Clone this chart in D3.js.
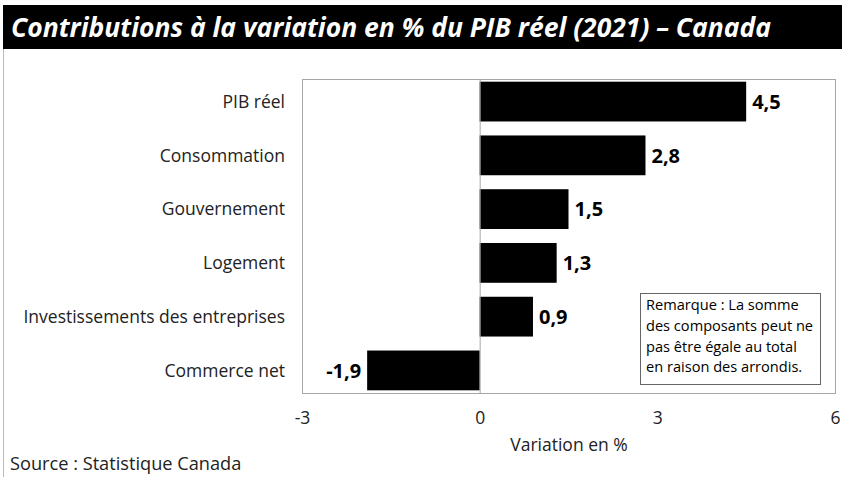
<!DOCTYPE html>
<html>
<head>
<meta charset="utf-8">
<script src="https://cdn.jsdelivr.net/npm/d3@7"></script>
<style>
  body { margin: 0; background: #fff; }
  svg { font-family: 'Open Sans', sans-serif; }
</style>
</head>
<body>
<div id="chart"></div>
<script>
// data
var categories = ['PIB réel', 'Consommation', 'Gouvernement', 'Logement', 'Investissements des entreprises', 'Commerce net']
var values = [4.5, 2.8, 1.5, 1.3, 0.9, -1.9]
var tickValues = [-3, 0, 3, 6]
var noteLines = ['Remarque : La somme', 'des composants peut ne', 'pas être égale au total', 'en raison des arrondis.']

var width = 842
var height = 477

var plot = { left: 302, right: 835, top: 79, bottom: 393 }

var svg = d3.select('#chart').append('svg')
  .attr('width', width)
  .attr('height', height)

// title bar
svg.append('rect')
  .attr('x', 3)
  .attr('y', 5)
  .attr('width', width - 3)
  .attr('height', 44)
  .attr('fill', '#000')

svg.append('text')
  .attr('x', 11)
  .attr('y', 37)
  .attr('fill', '#fff')
  .attr('font-size', 26.5)
  .attr('font-weight', 'bold')
  .attr('font-style', 'italic')
  .attr('textLength', 760)
  .attr('lengthAdjust', 'spacingAndGlyphs')
  .text('Contributions à la variation en % du PIB réel (2021) – Canada')

// faint left border of the panel
svg.append('line')
  .attr('x1', 3.5).attr('x2', 3.5)
  .attr('y1', 49).attr('y2', height)
  .attr('stroke', '#bbb')
  .attr('stroke-width', 1)

var x = d3.scaleLinear()
  .domain([-3, 6])
  .range([plot.left, plot.right])

var y = d3.scaleBand()
  .domain(categories)
  .range([plot.top, plot.bottom])
  .paddingInner(0.26)
  .paddingOuter(0.05)

// plot frame
svg.append('rect')
  .attr('x', plot.left + 0.5)
  .attr('y', plot.top + 0.5)
  .attr('width', plot.right - plot.left)
  .attr('height', plot.bottom - plot.top)
  .attr('fill', 'none')
  .attr('stroke', '#a6a6a6')
  .attr('stroke-width', 1)

var rows = categories.map(function (c, i) { return { name: c, value: values[i] } })

svg.selectAll('rect.bar')
  .data(rows)
  .enter().append('rect')
  .attr('class', 'bar')
  .attr('x', function (d) { return x(Math.min(0, d.value)) })
  .attr('y', function (d) { return y(d.name) })
  .attr('width', function (d) { return Math.abs(x(d.value) - x(0)) })
  .attr('height', y.bandwidth())
  .attr('fill', '#000')

// zero line
svg.append('line')
  .attr('x1', x(0) + 0.5).attr('x2', x(0) + 0.5)
  .attr('y1', plot.top).attr('y2', plot.bottom)
  .attr('stroke', '#a6a6a6')
  .attr('stroke-width', 1)

var fmt = function (v) { return d3.format('.1f')(v).replace('.', ',').replace('−', '-') }

svg.selectAll('text.val')
  .data(rows)
  .enter().append('text')
  .attr('class', 'val')
  .attr('x', function (d) { return d.value >= 0 ? x(d.value) + 6 : x(d.value) - 6 })
  .attr('y', function (d) { return y(d.name) + y.bandwidth() / 2 })
  .attr('dy', '0.36em')
  .attr('text-anchor', function (d) { return d.value >= 0 ? 'start' : 'end' })
  .attr('font-size', 20)
  .attr('font-weight', 'bold')
  .attr('fill', '#000')
  .text(function (d) { return fmt(d.value) })

// category labels
svg.selectAll('text.cat')
  .data(rows)
  .enter().append('text')
  .attr('class', 'cat')
  .attr('x', 285)
  .attr('y', function (d) { return y(d.name) + y.bandwidth() / 2 })
  .attr('dy', '0.36em')
  .attr('text-anchor', 'end')
  .attr('font-size', 17.5)
  .attr('fill', '#222')
  .text(function (d) { return d.name })

// x axis labels
var xAxis = svg.append('g')
  .attr('transform', 'translate(0,' + plot.bottom + ')')
  .call(d3.axisBottom(x).tickValues(tickValues).tickSize(0).tickPadding(19).tickFormat(d3.format('d')))
xAxis.select('.domain').remove()
xAxis.selectAll('text')
  .attr('font-family', "'Open Sans', sans-serif")
  .attr('font-size', 17.5)
  .attr('fill', '#222')
  .text(function (d) { return String(d) })

svg.append('text')
  .attr('x', 569)
  .attr('y', 451)
  .attr('text-anchor', 'middle')
  .attr('font-size', 17.5)
  .attr('fill', '#222')
  .text('Variation en %')

svg.append('text')
  .attr('x', 10)
  .attr('y', 470)
  .attr('font-size', 18.2)
  .attr('fill', '#222')
  .text('Source : Statistique Canada')

// note box
svg.append('rect')
  .attr('x', 640.5)
  .attr('y', 293.5)
  .attr('width', 180)
  .attr('height', 91)
  .attr('fill', '#fff')
  .attr('stroke', '#666')
  .attr('stroke-width', 1)

svg.append('g').selectAll('text')
  .data(noteLines)
  .enter().append('text')
  .attr('x', 646)
  .attr('y', function (d, i) { return 310 + i * 20.8 })
  .attr('font-size', 14.6)
  .attr('fill', '#000')
  .text(function (d) { return d })
</script>
</body>
</html>
